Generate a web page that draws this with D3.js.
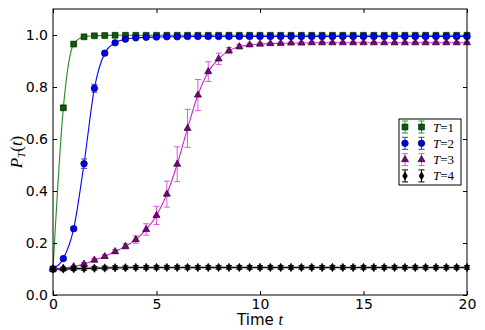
<!DOCTYPE html>
<html>
<head>
<meta charset="utf-8">
<script src="https://cdn.jsdelivr.net/npm/d3@7"></script>
<style>
  body { margin: 0; background: #fff; }
</style>
</head>
<body>
<svg id="chart" width="485" height="330" font-family="DejaVu Sans, sans-serif"></svg>
<script>
// time points (every 0.5)
const times = [0, 0.5, 1, 1.5, 2, 2.5, 3, 3.5, 4, 4.5, 5, 5.5, 6, 6.5, 7, 7.5, 8, 8.5, 9, 9.5,
  10, 10.5, 11, 11.5, 12, 12.5, 13, 13.5, 14, 14.5, 15, 15.5, 16, 16.5, 17, 17.5, 18, 18.5, 19, 19.5, 20];

const p1 = [0.1, 0.72, 0.965, 0.993, 0.997, 0.998, 0.999, 0.999, 0.999, 0.999, 0.999, 0.999, 0.999, 0.999,
  0.999, 0.999, 0.999, 0.999, 0.999, 0.999, 0.999, 0.999, 0.999, 0.999, 0.999, 0.999, 0.999, 0.999,
  0.999, 0.999, 0.999, 0.999, 0.999, 0.999, 0.999, 0.999, 0.999, 0.999, 0.999, 0.999, 0.999];
const e1 = [0, 0.006, 0.004, 0.002, 0.002, 0.002, 0.002, 0.002, 0.002, 0.002, 0.002, 0.002, 0.002, 0.002,
  0.002, 0.002, 0.002, 0.002, 0.002, 0.002, 0.002, 0.002, 0.002, 0.002, 0.002, 0.002, 0.002, 0.002,
  0.002, 0.002, 0.002, 0.002, 0.002, 0.002, 0.002, 0.002, 0.002, 0.002, 0.002, 0.002, 0.002];

const p2 = [0.1, 0.14, 0.255, 0.505, 0.795, 0.93, 0.97, 0.984, 0.989, 0.991, 0.992, 0.993, 0.993, 0.994,
  0.994, 0.994, 0.994, 0.994, 0.994, 0.994, 0.994, 0.994, 0.994, 0.994, 0.994, 0.994, 0.994, 0.994,
  0.994, 0.994, 0.994, 0.994, 0.994, 0.994, 0.994, 0.994, 0.994, 0.994, 0.994, 0.994, 0.994];
const e2 = [0, 0.004, 0.008, 0.018, 0.015, 0.008, 0.005, 0.004, 0.003, 0.003, 0.003, 0.003, 0.003, 0.003,
  0.003, 0.003, 0.003, 0.003, 0.003, 0.003, 0.003, 0.003, 0.003, 0.003, 0.003, 0.003, 0.003, 0.003,
  0.003, 0.003, 0.003, 0.003, 0.003, 0.003, 0.003, 0.003, 0.003, 0.003, 0.003, 0.003, 0.003];

const p3 = [0.1, 0.103, 0.109, 0.119, 0.134, 0.148, 0.167, 0.187, 0.213, 0.252, 0.306, 0.388, 0.503, 0.641,
  0.769, 0.859, 0.908, 0.94, 0.955, 0.962, 0.965, 0.967, 0.968, 0.969, 0.969, 0.97, 0.97, 0.97,
  0.97, 0.97, 0.97, 0.97, 0.97, 0.97, 0.97, 0.97, 0.97, 0.97, 0.97, 0.97, 0.97];
const e3 = [0, 0.003, 0.004, 0.005, 0.006, 0.007, 0.008, 0.01, 0.014, 0.022, 0.035, 0.05, 0.067, 0.073,
  0.06, 0.038, 0.022, 0.012, 0.008, 0.006, 0.005, 0.004, 0.004, 0.004, 0.004, 0.004, 0.004, 0.004,
  0.004, 0.004, 0.004, 0.004, 0.004, 0.004, 0.004, 0.004, 0.004, 0.004, 0.004, 0.004, 0.004];

const p4 = [0.1, 0.1, 0.101, 0.102, 0.103, 0.104, 0.105, 0.105, 0.106, 0.106, 0.106, 0.106, 0.106, 0.106,
  0.106, 0.106, 0.106, 0.106, 0.106, 0.106, 0.106, 0.106, 0.106, 0.106, 0.106, 0.106, 0.106, 0.106,
  0.106, 0.106, 0.106, 0.106, 0.106, 0.106, 0.106, 0.106, 0.106, 0.106, 0.106, 0.106, 0.106];
const e4 = [0, 0.007, 0.007, 0.007, 0.007, 0.007, 0.007, 0.007, 0.007, 0.007, 0.007, 0.007, 0.007, 0.007,
  0.007, 0.007, 0.007, 0.007, 0.007, 0.007, 0.007, 0.007, 0.007, 0.007, 0.007, 0.007, 0.007, 0.007,
  0.007, 0.007, 0.007, 0.007, 0.007, 0.007, 0.007, 0.007, 0.007, 0.007, 0.007, 0.007, 0.007];

const labels = ["1", "2", "3", "4"];
const xTicks = [0, 5, 10, 15, 20];
const yTicks = [0, 0.2, 0.4, 0.6, 0.8, 1.0];

const series = [
  { name: labels[0], values: p1, errs: e1, line: "#1f8f1f", fill: "#006400", err: "#2a9a2a", symbol: d3.symbolSquare, size: 34 },
  { name: labels[1], values: p2, errs: e2, line: "#0000ff", fill: "#0000ff", err: "#3333ff", symbol: d3.symbolCircle, size: 34 },
  { name: labels[2], values: p3, errs: e3, line: "#cc22cc", fill: "#800080", err: "#dd55dd", symbol: d3.symbolTriangle, size: 22 },
  { name: labels[3], values: p4, errs: e4, line: "#000000", fill: "#000000", err: "#000000", symbol: "diamond", size: 0 }
];

const svg = d3.select("#chart");
const margin = { left: 53, right: 18, top: 9, bottom: 35 };
const W = 485, H = 330;

const x = d3.scaleLinear().domain([0, 20]).range([margin.left, W - margin.right]);
const y = d3.scaleLinear().domain([0, 1.1]).range([H - margin.bottom, margin.top]);

const plot = svg.append("g");

function marker(sel, s) {
  if (s.symbol === "diamond") {
    sel.append("path").attr("d", "M0,-4.2L2.4,0L0,4.2L-2.4,0Z")
      .attr("fill", s.fill).attr("stroke", "#000").attr("stroke-width", 0.6);
  } else {
    sel.append("path").attr("d", d3.symbol().type(s.symbol).size(s.size)())
      .attr("fill", s.fill).attr("stroke", "#000").attr("stroke-width", 0.6);
  }
}

// gray underlay near the flat black line
plot.append("path")
  .datum(times.map((t, i) => [t, p4[i]]))
  .attr("fill", "none").attr("stroke", "#999").attr("stroke-width", 3).attr("opacity", 0.7)
  .attr("d", d3.line().x(d => x(d[0])).y(d => y(d[1])).curve(d3.curveMonotoneX));

series.forEach(s => {
  const pts = times.map((t, i) => ({ t: t, v: s.values[i], e: s.errs[i] }));
  const g = plot.append("g");
  g.append("path").datum(pts)
    .attr("fill", "none").attr("stroke", s.line).attr("stroke-width", 1.1)
    .attr("d", d3.line().x(d => x(d.t)).y(d => y(d.v)).curve(d3.curveMonotoneX));
  const eb = g.selectAll(".eb").data(pts.filter(d => d.e > 0)).enter().append("g")
    .attr("stroke", s.err).attr("stroke-width", 1);
  eb.append("line").attr("x1", d => x(d.t)).attr("x2", d => x(d.t))
    .attr("y1", d => y(d.v - d.e)).attr("y2", d => y(d.v + d.e));
  eb.append("line").attr("x1", d => x(d.t) - 3).attr("x2", d => x(d.t) + 3)
    .attr("y1", d => y(d.v - d.e)).attr("y2", d => y(d.v - d.e));
  eb.append("line").attr("x1", d => x(d.t) - 3).attr("x2", d => x(d.t) + 3)
    .attr("y1", d => y(d.v + d.e)).attr("y2", d => y(d.v + d.e));
  g.selectAll(".m").data(pts).enter().append("g")
    .attr("transform", d => `translate(${x(d.t)},${y(d.v)})`)
    .each(function() { marker(d3.select(this), s); });
});

// frame
svg.append("rect")
  .attr("x", margin.left).attr("y", margin.top)
  .attr("width", W - margin.left - margin.right).attr("height", H - margin.top - margin.bottom)
  .attr("fill", "none").attr("stroke", "#000").attr("stroke-width", 1);

// axes with inward ticks
const fmt = d3.format(".1f");
const xb = svg.append("g").attr("transform", `translate(0,${H - margin.bottom})`)
  .call(d3.axisBottom(x).tickValues(xTicks).tickSizeInner(-4).tickSizeOuter(0).tickPadding(4));
const xt = svg.append("g").attr("transform", `translate(0,${margin.top})`)
  .call(d3.axisTop(x).tickValues(xTicks).tickSizeInner(-4).tickSizeOuter(0).tickFormat(""));
const yl = svg.append("g").attr("transform", `translate(${margin.left},0)`)
  .call(d3.axisLeft(y).tickValues(yTicks).tickFormat(fmt).tickSizeInner(-4).tickSizeOuter(0).tickPadding(5));
const yr = svg.append("g").attr("transform", `translate(${W - margin.right},0)`)
  .call(d3.axisRight(y).tickValues(yTicks).tickSizeInner(-4).tickSizeOuter(0).tickFormat(""));
[xb, xt, yl, yr].forEach(a => {
  a.select(".domain").remove();
  a.selectAll("text").attr("font-size", 14).attr("font-family", "DejaVu Sans, sans-serif").attr("fill", "#000");
});

// axis labels
const xlab = svg.append("text").attr("x", 260).attr("y", 325).attr("text-anchor", "middle")
  .attr("font-size", 15);
xlab.append("tspan").text("Time ");
xlab.append("tspan").attr("font-family", "Liberation Serif, serif").attr("font-style", "italic").attr("font-size", 16).text("t");

const ylab = svg.append("text").attr("transform", "translate(22,152) rotate(-90)")
  .attr("text-anchor", "middle").attr("font-family", "Liberation Serif, serif").attr("font-size", 17);
ylab.append("tspan").attr("font-style", "italic").text("P");
ylab.append("tspan").attr("font-style", "italic").attr("font-size", 11).attr("dy", 3).text("T");
ylab.append("tspan").attr("dy", -3).text("(");
ylab.append("tspan").attr("font-style", "italic").text("t");
ylab.append("tspan").text(")");

// legend
const lg = svg.append("g");
lg.append("rect").attr("x", 399).attr("y", 119).attr("width", 62).attr("height", 66)
  .attr("fill", "#fff").attr("stroke", "#000").attr("stroke-width", 1);
series.forEach((s, i) => {
  const cy = 127 + i * 16.3;
  [405, 421.5].forEach(cx => {
    const m = lg.append("g").attr("transform", `translate(${cx},${cy})`);
    m.append("line").attr("x1", 0).attr("x2", 0).attr("y1", -6).attr("y2", 6).attr("stroke", s.err);
    m.append("line").attr("x1", -3).attr("x2", 3).attr("y1", -6).attr("y2", -6).attr("stroke", s.err);
    m.append("line").attr("x1", -3).attr("x2", 3).attr("y1", 6).attr("y2", 6).attr("stroke", s.err);
    marker(m, s);
  });
  const t = lg.append("text").attr("x", 433).attr("y", cy + 4.5)
    .attr("font-family", "Liberation Serif, serif").attr("font-size", 13);
  t.append("tspan").attr("font-style", "italic").text("T");
  t.append("tspan").text("=" + s.name);
});
</script>
</body>
</html>
